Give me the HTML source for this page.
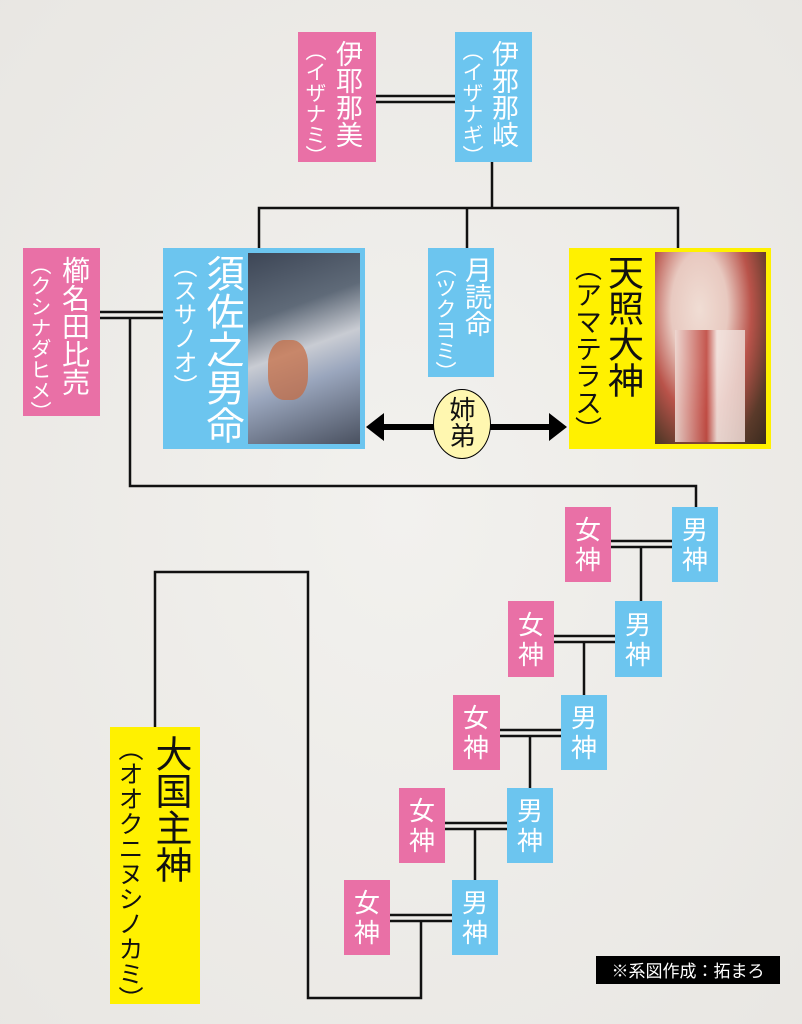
<!DOCTYPE html>
<html><head><meta charset="utf-8"><style>
html,body{margin:0;padding:0}
body{width:802px;height:1024px;position:relative;overflow:hidden;background:#eeedea;font-family:"Noto Sans CJK JP","Liberation Sans",sans-serif}
.b{position:absolute}
.p{background:#e970a6}.u{background:#6cc5ef}.y{background:#fff100}
.v{position:absolute;writing-mode:vertical-rl;white-space:nowrap;line-height:1;color:#fff;font-family:"Noto Sans CJK JP",sans-serif}
.k{color:#111}
.g{position:absolute;color:#fff;font-size:26px;line-height:30px;text-align:center;width:46px;font-family:"Noto Sans CJK JP",sans-serif}
</style></head><body>
<svg class="b" style="left:0;top:0" width="802" height="1024">
<defs>
<radialGradient id="bg" cx="50%" cy="50%" r="75%"><stop offset="0" stop-color="#f2f1ee"/><stop offset="1" stop-color="#e8e6e2"/></radialGradient>
</defs>
<rect width="802" height="1024" fill="url(#bg)"/>
<g stroke="#111" stroke-width="2.5" fill="none">
<line x1="376" y1="96" x2="455" y2="96"/><line x1="376" y1="102" x2="455" y2="102"/>
<polyline points="492,162 492,208"/>
<polyline points="259,248 259,208 678,208 678,248"/>
<line x1="467" y1="208" x2="467" y2="248"/>
<line x1="100" y1="312" x2="163" y2="312"/><line x1="100" y1="318" x2="163" y2="318"/>
<polyline points="130,318 130,486 696,486 696,507"/>
<line x1="611" y1="541" x2="672" y2="541"/><line x1="611" y1="547" x2="672" y2="547"/>
<line x1="641" y1="547" x2="641" y2="601"/>
<line x1="554" y1="636" x2="615" y2="636"/><line x1="554" y1="642" x2="615" y2="642"/>
<line x1="584" y1="642" x2="584" y2="695"/>
<line x1="500" y1="730" x2="561" y2="730"/><line x1="500" y1="736" x2="561" y2="736"/>
<line x1="530" y1="736" x2="530" y2="788"/>
<line x1="445" y1="823" x2="507" y2="823"/><line x1="445" y1="829" x2="507" y2="829"/>
<line x1="475" y1="829" x2="475" y2="880"/>
<line x1="390" y1="915" x2="452" y2="915"/><line x1="390" y1="921" x2="452" y2="921"/>
<polyline points="421,921 421,998 308,998 308,572 155,572 155,727"/>
</g>
<line x1="380" y1="427" x2="552" y2="427" stroke="#000" stroke-width="6"/>
<polygon points="366,427 384,413 384,441" fill="#000"/>
<polygon points="567,427 549,413 549,441" fill="#000"/>
</svg>

<div class="b p" style="left:298px;top:32px;width:78px;height:130px"></div>
<div class="v" style="left:336px;top:40px;font-size:27px">伊耶那美</div>
<div class="v" style="left:305px;top:40px;font-size:21px">（イザナミ）</div>

<div class="b u" style="left:455px;top:32px;width:77px;height:130px"></div>
<div class="v" style="left:492px;top:40px;font-size:27px">伊邪那岐</div>
<div class="v" style="left:462px;top:40px;font-size:21px">（イザナギ）</div>

<div class="b p" style="left:23px;top:248px;width:77px;height:168px"></div>
<div class="v" style="left:62px;top:256px;font-size:28px">櫛名田比売</div>
<div class="v" style="left:30px;top:254px;font-size:21px">（クシナダヒメ）</div>

<div class="b u" style="left:163px;top:248px;width:202px;height:201px"></div>
<div class="b" style="left:248px;top:253px;width:112px;height:191px;background:linear-gradient(160deg,#3d4656 0%,#5f6a78 30%,#c9ccd3 50%,#9aa6bd 65%,#4a5160 100%)"></div>
<div class="b" style="left:268px;top:340px;width:40px;height:60px;background:#c86a3d;border-radius:40%;opacity:.7"></div>
<div class="v" style="left:206px;top:254px;font-size:38px">須佐之男命</div>
<div class="v" style="left:173px;top:254px;font-size:24px">（スサノオ）</div>

<div class="b u" style="left:428px;top:248px;width:66px;height:129px"></div>
<div class="v" style="left:465px;top:256px;font-size:27px">月読命</div>
<div class="v" style="left:435px;top:256px;font-size:21px">（ツクヨミ）</div>

<div class="b y" style="left:569px;top:248px;width:202px;height:201px"></div>
<div class="b" style="left:655px;top:252px;width:111px;height:192px;background:radial-gradient(ellipse at 40% 30%,#f0ddd4 0%,#e8c9c0 30%,#b9534a 55%,#5a3a2a 80%,#3a2a1e 100%)"></div>
<div class="b" style="left:675px;top:330px;width:70px;height:112px;background:linear-gradient(90deg,#eed8d2,#c04a42 45%,#f3e3de 60%,#e9d2cc);opacity:.9"></div>
<div class="v k" style="left:608px;top:254px;font-size:36px">天照大神</div>
<div class="v k" style="left:575px;top:254px;font-size:27px">（アマテラス）</div>

<div class="b" style="left:433px;top:389px;width:58px;height:70px;border:1.5px solid #000;border-radius:50%;background:#fff7b0;box-sizing:border-box"></div>
<div class="v k" style="left:449px;top:396px;font-size:26px">姉弟</div>

<div class="b y" style="left:110px;top:727px;width:90px;height:277px"></div>
<div class="v k" style="left:155px;top:735px;font-size:37px">大国主神</div>
<div class="v k" style="left:118px;top:736px;font-size:25px">（オオクニヌシノカミ）</div>

<div class="b p" style="left:565px;top:507px;width:46px;height:75px"></div><div class="g" style="left:565px;top:514px">女<br>神</div>
<div class="b u" style="left:672px;top:507px;width:46px;height:75px"></div><div class="g" style="left:672px;top:514px">男<br>神</div>
<div class="b p" style="left:508px;top:601px;width:46px;height:76px"></div><div class="g" style="left:508px;top:609px">女<br>神</div>
<div class="b u" style="left:615px;top:601px;width:47px;height:76px"></div><div class="g" style="left:615px;top:609px">男<br>神</div>
<div class="b p" style="left:453px;top:695px;width:47px;height:75px"></div><div class="g" style="left:453px;top:702px">女<br>神</div>
<div class="b u" style="left:561px;top:695px;width:46px;height:75px"></div><div class="g" style="left:561px;top:702px">男<br>神</div>
<div class="b p" style="left:399px;top:788px;width:46px;height:75px"></div><div class="g" style="left:399px;top:795px">女<br>神</div>
<div class="b u" style="left:507px;top:788px;width:46px;height:75px"></div><div class="g" style="left:507px;top:795px">男<br>神</div>
<div class="b p" style="left:344px;top:880px;width:46px;height:75px"></div><div class="g" style="left:344px;top:887px">女<br>神</div>
<div class="b u" style="left:452px;top:880px;width:46px;height:75px"></div><div class="g" style="left:452px;top:887px">男<br>神</div>

<div class="b" style="left:596px;top:956px;width:184px;height:28px;background:#000;color:#fff;font-size:17px;line-height:28px;text-align:center">※系図作成：拓まろ</div>
</body></html>
